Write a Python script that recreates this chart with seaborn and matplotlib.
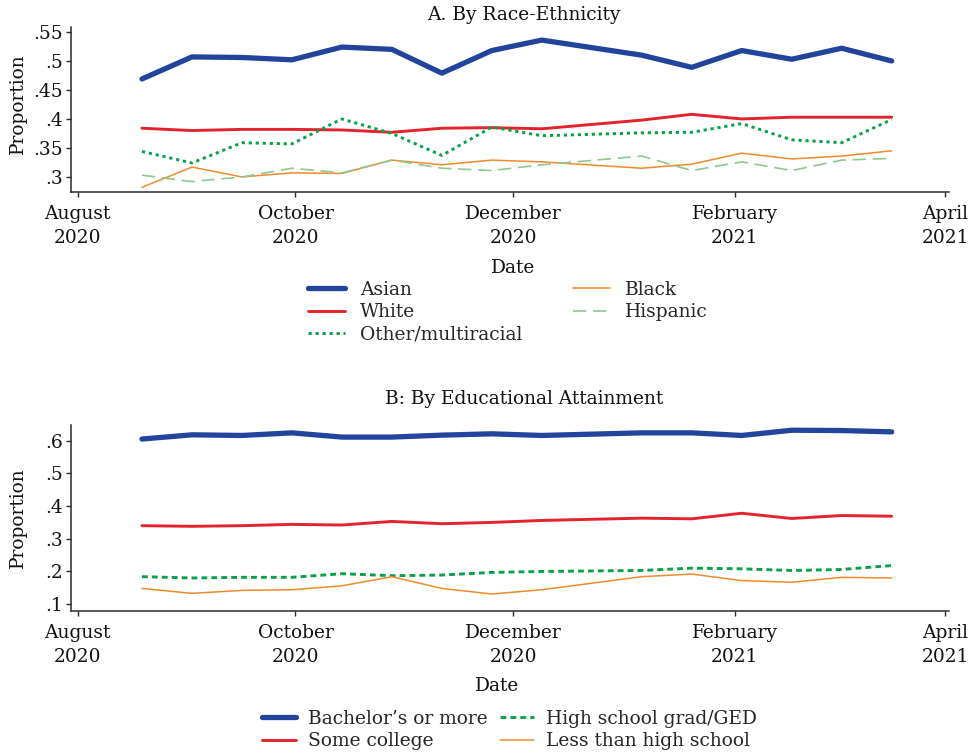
import matplotlib
matplotlib.use("Agg")
import matplotlib.pyplot as plt
import matplotlib.dates as mdates
import numpy as np
import pandas as pd
import seaborn as sns

# Survey period start dates (biweekly waves; no wave over the holidays)
survey_dates = ["2020-08-19", "2020-09-02", "2020-09-16", "2020-09-30", "2020-10-14",
                "2020-10-28", "2020-11-11", "2020-11-25", "2020-12-09", "2021-01-06",
                "2021-01-20", "2021-02-03", "2021-02-17", "2021-03-03", "2021-03-17"]

# Panel A: by race-ethnicity
asian = [0.469, 0.507, 0.506, 0.502, 0.524, 0.520, 0.479, 0.518, 0.536, 0.510,
         0.489, 0.518, 0.503, 0.522, 0.500]
white = [0.384, 0.380, 0.382, 0.382, 0.381, 0.377, 0.384, 0.385, 0.383, 0.398,
         0.408, 0.400, 0.403, 0.403, 0.403]
other_multi = [0.344, 0.324, 0.359, 0.357, 0.400, 0.375, 0.337, 0.386, 0.371, 0.376,
               0.377, 0.392, 0.364, 0.359, 0.399]
black = [0.282, 0.317, 0.300, 0.307, 0.306, 0.329, 0.321, 0.329, 0.326, 0.315,
         0.322, 0.341, 0.331, 0.336, 0.345]
hispanic = [0.303, 0.292, 0.300, 0.315, 0.307, 0.329, 0.315, 0.311, 0.321, 0.336,
            0.311, 0.326, 0.311, 0.329, 0.332]

# Panel B: by educational attainment
bachelors = [0.605, 0.618, 0.616, 0.624, 0.611, 0.611, 0.617, 0.621, 0.616, 0.624,
             0.624, 0.616, 0.632, 0.631, 0.627]
some_college = [0.340, 0.338, 0.340, 0.344, 0.342, 0.353, 0.346, 0.350, 0.356, 0.363,
                0.361, 0.378, 0.362, 0.371, 0.369]
hs_grad = [0.184, 0.180, 0.182, 0.182, 0.193, 0.187, 0.189, 0.197, 0.200, 0.203,
           0.210, 0.208, 0.203, 0.206, 0.218]
less_hs = [0.148, 0.133, 0.142, 0.144, 0.156, 0.184, 0.148, 0.131, 0.144, 0.184,
           0.192, 0.172, 0.167, 0.182, 0.180]

race_labels = ["Asian", "White", "Other/multiracial", "Black", "Hispanic"]
edu_labels = ["Bachelor\u2019s or more", "Some college", "High school grad/GED",
              "Less than high school"]

tick_dates = ["2020-08-01", "2020-10-01", "2020-12-01", "2021-02-01", "2021-04-01"]
tick_labels = ["August\n2020", "October\n2020", "December\n2020", "February\n2021",
               "April\n2021"]
race_yticks = [0.30, 0.35, 0.40, 0.45, 0.50, 0.55]
race_yticklabels = [".3", ".35", ".4", ".45", ".5", ".55"]
edu_yticks = [0.1, 0.2, 0.3, 0.4, 0.5, 0.6]
edu_yticklabels = [".1", ".2", ".3", ".4", ".5", ".6"]

sns.set_theme(style="ticks")
plt.rcParams["font.family"] = ["DejaVu Serif"]
FS = 13.4

NAVY = "#22449c"
RED = "#e2232b"
GREEN = "#0aa04a"
ORANGE = "#f08a2c"
LIGHTGREEN = "#8fc78f"
SPINE = "#2a2a2a"

W, H = 972, 756
fig = plt.figure(figsize=(W / 100, H / 100), dpi=100)


def axes_rect(left, top, right, bottom):
    return [left / W, 1 - bottom / H, (right - left) / W, (bottom - top) / H]


axA = fig.add_axes(axes_rect(71, 27, 949, 192))
axB = fig.add_axes(axes_rect(71, 425, 949, 610.5))

dates = pd.to_datetime(survey_dates)
df_race = pd.DataFrame({"date": dates, "Asian": asian, "White": white,
                        "Other/multiracial": other_multi, "Black": black,
                        "Hispanic": hispanic})
df_edu = pd.DataFrame({"date": dates, edu_labels[0]: bachelors,
                       edu_labels[1]: some_college, edu_labels[2]: hs_grad,
                       edu_labels[3]: less_hs})

race_styles = {
    "Asian": dict(color=NAVY, lw=3.8, ls="-"),
    "White": dict(color=RED, lw=2.1, ls="-"),
    "Other/multiracial": dict(color=GREEN, lw=2.1, ls=(0, (1.1, 1.3))),
    "Black": dict(color=ORANGE, lw=1.1, ls="-"),
    "Hispanic": dict(color=LIGHTGREEN, lw=1.2, ls=(0, (8, 4))),
}
edu_styles = {
    edu_labels[0]: dict(color=NAVY, lw=3.8, ls="-"),
    edu_labels[1]: dict(color=RED, lw=2.1, ls="-"),
    edu_labels[2]: dict(color=GREEN, lw=2.1, ls=(0, (2.0, 1.4))),
    edu_labels[3]: dict(color=ORANGE, lw=1.1, ls="-"),
}


def draw(ax, df, labels, styles):
    for lab in labels:
        st = styles[lab]
        sns.lineplot(data=df, x="date", y=lab, ax=ax, color=st["color"],
                     linewidth=st["lw"], linestyle=st["ls"], label=lab,
                     solid_capstyle="round", dash_capstyle="butt",
                     solid_joinstyle="round")
    ax.get_legend().remove()


draw(axA, df_race, race_labels, race_styles)
draw(axB, df_edu, edu_labels, edu_styles)

x0 = mdates.date2num(pd.Timestamp("2020-08-01")) - 1.88
x1 = x0 + 878 / 3.570
tick_nums = [mdates.date2num(pd.Timestamp(d)) for d in tick_dates]

for ax, yt, ytl, ylim in [
    (axA, race_yticks, race_yticklabels, (0.274, 0.5586)),
    (axB, edu_yticks, edu_yticklabels, (0.0805, 0.648)),
]:
    ax.set_xlim(x0, x1)
    ax.set_ylim(*ylim)
    ax.set_xticks(tick_nums)
    ax.set_xticklabels(tick_labels, fontsize=FS)
    for t in ax.get_xticklabels():
        t.set_linespacing(1.45)
    ax.set_yticks(yt)
    ax.set_yticklabels(ytl, fontsize=FS)
    ax.set_xlabel("")
    ax.set_ylabel("")
    for s in ["top", "right"]:
        ax.spines[s].set_visible(False)
    for s in ["left", "bottom"]:
        ax.spines[s].set_color(SPINE)
        ax.spines[s].set_linewidth(1.1)
    ax.tick_params(axis="both", direction="out", length=3.5, width=1.0,
                   color=SPINE, labelcolor="#111111")
    ax.tick_params(axis="x", pad=6)
    ax.tick_params(axis="y", pad=2.5)
    ax.set_facecolor("white")

# Titles, axis titles
fig.text(524 / W, 1 - 15 / H, "A. By Race-Ethnicity", ha="center", va="center",
         fontsize=FS, color="#111111")
fig.text(524 / W, 1 - 399 / H, "B: By Educational Attainment", ha="center",
         va="center", fontsize=FS, color="#111111")
fig.text(17.5 / W, 1 - 104 / H, "Proportion", rotation=90, ha="center",
         va="center", fontsize=FS, color="#111111")
fig.text(17.5 / W, 1 - 517.5 / H, "Proportion", rotation=90, ha="center",
         va="center", fontsize=FS, color="#111111")
fig.text(513 / W, 1 - 268 / H, "Date", ha="center", va="center", fontsize=FS,
         color="#111111")
fig.text(497 / W, 1 - 686 / H, "Date", ha="center", va="center", fontsize=FS,
         color="#111111")

# Legends below each panel
hA, lA = axA.get_legend_handles_labels()
fig.legend(hA, lA, loc="upper left", bbox_to_anchor=(308 / W, 1 - 281 / H),
           ncol=2, frameon=False, fontsize=FS, handlelength=2.0,
           handletextpad=0.8, columnspacing=2.7, labelspacing=0.23,
           borderpad=0, borderaxespad=0)

hB, lB = axB.get_legend_handles_labels()
fig.legend(hB, lB, loc="upper left", bbox_to_anchor=(262 / W, 1 - 710 / H),
           ncol=2, frameon=False, fontsize=FS, handlelength=1.8,
           handletextpad=0.65, columnspacing=0.7, labelspacing=0.23,
           borderpad=0, borderaxespad=0)

fig.savefig("out.png", dpi=100, facecolor="white")
